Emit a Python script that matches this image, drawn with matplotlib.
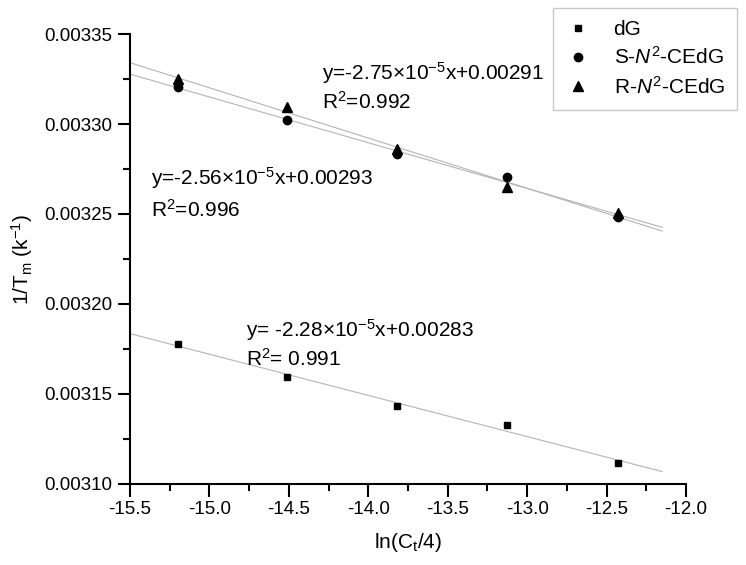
import numpy as np
import matplotlib
matplotlib.use('Agg')
import matplotlib.pyplot as plt

# data
ln_ct = [-15.20, -14.51, -13.82, -13.13, -12.43]
dG = [0.0031776, 0.0031596, 0.0031433, 0.0031329, 0.0031118]
S_CEdG = [0.0033204, 0.0033022, 0.0032833, 0.0032708, 0.0032482]
R_CEdG = [0.0033248, 0.0033093, 0.0032861, 0.0032650, 0.0032503]
fit_range = [-15.5, -12.15]

plt.rcParams['font.family'] = ['Liberation Sans', 'DejaVu Sans']
plt.rcParams['mathtext.fontset'] = 'custom'
plt.rcParams['mathtext.rm'] = 'Liberation Sans'
plt.rcParams['mathtext.it'] = 'Liberation Sans:italic'
plt.rcParams['mathtext.default'] = 'regular'
plt.rcParams['font.size'] = 13.5

fig = plt.figure(figsize=(7.46, 5.65), dpi=100)
ax = fig.add_axes([0.1743, 0.1434, 0.7453, 0.7964])

xf = np.array(fit_range)
for ys in (dG, S_CEdG, R_CEdG):
    k, b = np.polyfit(ln_ct, ys, 1)
    ax.plot(xf, k * xf + b, color='#b4b4b4', lw=0.8, zorder=1)

h1, = ax.plot(ln_ct, dG, 's', color='black', ms=5, ls='none')
h2, = ax.plot(ln_ct, S_CEdG, 'o', color='black', ms=6, ls='none')
h3, = ax.plot(ln_ct, R_CEdG, '^', color='black', ms=7, ls='none')

ax.set_xlim(-15.5, -12.0)
ax.set_ylim(0.00310, 0.00335)
ax.set_xticks(np.arange(-15.5, -11.99, 0.5))
ax.set_xticks(np.arange(-15.25, -12.0, 0.5), minor=True)
ax.set_yticks(np.arange(0.00310, 0.003351, 0.00005))
ax.set_yticks(np.arange(0.003125, 0.00335, 0.00005), minor=True)
ax.xaxis.set_major_formatter(matplotlib.ticker.FormatStrFormatter('%.1f'))
ax.yaxis.set_major_formatter(matplotlib.ticker.FormatStrFormatter('%.5f'))
ax.tick_params(which='major', direction='out', length=9, width=1.5, labelsize=13.5)
ax.tick_params(which='minor', direction='out', length=5, width=1.5)
for s in ('top', 'right'):
    ax.spines[s].set_visible(False)
for s in ('left', 'bottom'):
    ax.spines[s].set_linewidth(1.5)

ax.set_xlabel('ln(C$_t$/4)', fontsize=15, labelpad=9)
ax.set_ylabel('1/T$_m$ (k$^{-1}$)', fontsize=15, labelpad=7)

# regression equations
ax.text(-14.293, 0.0033283, 'y=-2.75\u00d710$^{-5}$x+0.00291', fontsize=15, va='center')
ax.text(-14.293, 0.0033122, 'R$^2$=0.992', fontsize=15, va='center')
ax.text(-15.37, 0.0032700, 'y=-2.56\u00d710$^{-5}$x+0.00293', fontsize=15, va='center')
ax.text(-15.37, 0.0032522, 'R$^2$=0.996', fontsize=15, va='center')
ax.text(-14.77, 0.0031855, 'y= -2.28\u00d710$^{-5}$x+0.00283', fontsize=15, va='center')
ax.text(-14.77, 0.0031695, 'R$^2$= 0.991', fontsize=15, va='center')

fig.legend([h1, h2, h3], ['dG', 'S-$\\mathit{N}^2$-CEdG', 'R-$\\mathit{N}^2$-CEdG'],
           loc='upper right', bbox_to_anchor=(0.994, 0.994), fontsize=15,
           frameon=True, fancybox=False, edgecolor='#c8c8c8', framealpha=1,
           handlelength=1.2, handletextpad=1.1, borderpad=0.6,
           labelspacing=0.35, borderaxespad=0.2)

fig.savefig('out.png', dpi=100)
